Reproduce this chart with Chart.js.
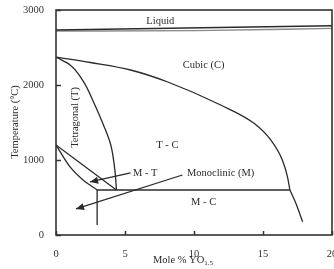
<!DOCTYPE html>
<html>
<head>
<meta charset="utf-8">
<script src="https://cdn.jsdelivr.net/npm/chart.js@4/dist/chart.umd.min.js"></script>
<style>
  html, body { margin: 0; padding: 0; background: #fff; }
  canvas { display: block; }
</style>
</head>
<body>
<canvas id="myChart" width="334" height="269"></canvas>
<script>
// phase boundaries, mole % YO1.5 vs temperature (deg C)
const liquidusX = [0, 20], liquidusY = [2733, 2790];
const solidusX = [0, 10, 20], solidusY = [2720, 2725, 2755];
const cubicX = [0, 2.5, 5.4, 8.1, 11.93, 14.35, 15.56, 16.4, 16.77, 16.95];
const cubicY = [2373, 2300, 2200, 2040, 1733, 1489, 1267, 1000, 778, 600];
const cubicTailX = [16.95, 17.38, 17.87];
const cubicTailY = [600, 422, 178];
const tetraX = [0, 1.02, 1.99, 2.71, 3.44, 3.97, 4.28, 4.38];
const tetraY = [2373, 2267, 2044, 1777, 1467, 1200, 844, 600];
const mtUpperX = [0, 4.38], mtUpperY = [1200, 600];
const mtLowerX = [0, 1.02, 1.96, 2.98], mtLowerY = [1200, 907, 733, 600];
const eutectoidX = [2.98, 16.95], eutectoidY = [600, 600];
const verticalX = [2.98, 2.98], verticalY = [600, 133];
const arrowMTX = [5.4, 2.47], arrowMTY = [827, 707];
const arrowMonoX = [9.16, 1.45], arrowMonoY = [800, 347];

const xTicks = [0, 5, 10, 15, 20];
const yTicks = [0, 1000, 2000, 3000];

const labels = [
  { text: 'Liquid', x: 7.56, y: 2853 },
  { text: 'Cubic (C)', x: 10.7, y: 2267 },
  { text: 'T - C', x: 8.07, y: 1200 },
  { text: 'M - T', x: 6.47, y: 827 },
  { text: 'Monoclinic (M)', x: 11.93, y: 827 },
  { text: 'M - C', x: 10.7, y: 440 },
  { text: 'Tetragonal (T)', x: 1.38, y: 1567, rot: true }
];

const FONT = '10.5px "Liberation Serif", "Times New Roman", serif';
const INK = '#2a2a2a';

function pts(xs, ys) {
  return xs.map((x, i) => ({ x: x, y: ys[i] }));
}
function line(xs, ys, opts) {
  return Object.assign({
    data: pts(xs, ys),
    showLine: true,
    pointRadius: 0,
    borderColor: INK,
    borderWidth: 1.3,
    tension: 0,
    fill: false
  }, opts || {});
}

const smooth = { cubicInterpolationMode: 'monotone' };

const datasets = [
  line(liquidusX, liquidusY, { borderWidth: 1.6 }),
  line(solidusX, solidusY, { borderColor: '#8a8a8a', borderWidth: 1.4, cubicInterpolationMode: 'monotone' }),
  line(cubicX, cubicY, smooth),
  line(cubicTailX, cubicTailY, smooth),
  // tetragonal boundary is steep, so interpolate along temperature
  line(tetraX, tetraY, { cubicInterpolationMode: 'monotone', indexAxis: 'y' }),
  line(mtUpperX, mtUpperY),
  line(mtLowerX, mtLowerY, smooth),
  line(eutectoidX, eutectoidY),
  line(verticalX, verticalY),
  line(arrowMTX, arrowMTY, { arrow: true }),
  line(arrowMonoX, arrowMonoY, { arrow: true })
];

const decor = {
  id: 'decor',
  afterDraw(chart) {
    const ctx = chart.ctx;
    const xs = chart.scales.x, ys = chart.scales.y;
    const a = chart.chartArea;
    ctx.save();
    // frame
    ctx.strokeStyle = '#333';
    ctx.lineWidth = 1.6;
    ctx.strokeRect(a.left, a.top, a.right - a.left, a.bottom - a.top);
    // inward ticks
    ctx.lineWidth = 1.5;
    ctx.beginPath();
    xTicks.forEach(v => {
      const px = Math.round(xs.getPixelForValue(v)) + 0.5;
      ctx.moveTo(px, a.bottom); ctx.lineTo(px, a.bottom - 4);
    });
    yTicks.forEach(v => {
      const py = Math.round(ys.getPixelForValue(v)) + 0.5;
      ctx.moveTo(a.left, py); ctx.lineTo(a.left + 5, py);
    });
    ctx.stroke();
    // arrowheads
    ctx.fillStyle = INK;
    chart.data.datasets.forEach(ds => {
      if (!ds.arrow) return;
      const p = ds.data;
      const x1 = xs.getPixelForValue(p[0].x), y1 = ys.getPixelForValue(p[0].y);
      const x2 = xs.getPixelForValue(p[1].x), y2 = ys.getPixelForValue(p[1].y);
      const ang = Math.atan2(y2 - y1, x2 - x1);
      const L = 8, W = 3.5;
      ctx.beginPath();
      ctx.moveTo(x2, y2);
      ctx.lineTo(x2 - L * Math.cos(ang) + W * Math.sin(ang), y2 - L * Math.sin(ang) - W * Math.cos(ang));
      ctx.lineTo(x2 - L * Math.cos(ang) - W * Math.sin(ang), y2 - L * Math.sin(ang) + W * Math.cos(ang));
      ctx.closePath();
      ctx.fill();
    });
    // region labels
    ctx.font = FONT;
    ctx.textAlign = 'center';
    ctx.textBaseline = 'middle';
    labels.forEach(l => {
      const px = xs.getPixelForValue(l.x), py = ys.getPixelForValue(l.y);
      if (l.rot) {
        ctx.save();
        ctx.translate(px, py);
        ctx.rotate(-Math.PI / 2);
        ctx.fillText(l.text, 0, 0);
        ctx.restore();
      } else {
        ctx.fillText(l.text, px, py);
      }
    });
    // axis titles
    ctx.save();
    ctx.translate(15, 122);
    ctx.rotate(-Math.PI / 2);
    ctx.fillText('Temperature (\u00B0C)', 0, 0);
    ctx.restore();
    ctx.textAlign = 'left';
    const main = 'Mole % YO';
    const w = ctx.measureText(main).width;
    ctx.font = '7px "Liberation Serif", serif';
    const sw = ctx.measureText('1.5').width;
    const startX = 183 - (w + sw) / 2;
    ctx.font = FONT;
    ctx.fillText(main, startX, 260);
    ctx.font = '7px "Liberation Serif", serif';
    ctx.fillText('1.5', startX + w, 263);
    ctx.restore();
  }
};

const tickFont = { family: '"Liberation Serif", serif', size: 10.5 };

new Chart(document.getElementById('myChart').getContext('2d'), {
  type: 'scatter',
  data: { datasets: datasets },
  plugins: [decor],
  options: {
    responsive: false,
    animation: false,
    devicePixelRatio: 1,
    layout: { padding: { top: 10, right: 2, left: 0, bottom: 0 } },
    plugins: { legend: { display: false }, tooltip: { enabled: false } },
    scales: {
      x: {
        type: 'linear', min: 0, max: 20,
        grid: { display: false }, border: { display: false },
        afterFit: s => { s.height = 34; s.paddingLeft = 0; s.paddingRight = 0; },
        afterBuildTicks: s => { s.ticks = xTicks.map(v => ({ value: v })); },
        ticks: { padding: 5, color: '#333', font: tickFont, callback: v => String(v) }
      },
      y: {
        type: 'linear', min: 0, max: 3000,
        grid: { display: false }, border: { display: false },
        afterFit: s => { s.width = 56; s.paddingTop = 0; s.paddingBottom = 0; },
        afterBuildTicks: s => { s.ticks = yTicks.map(v => ({ value: v })); },
        ticks: { padding: 4, color: '#333', font: tickFont, callback: v => String(v) }
      }
    }
  }
});
</script>
</body>
</html>
